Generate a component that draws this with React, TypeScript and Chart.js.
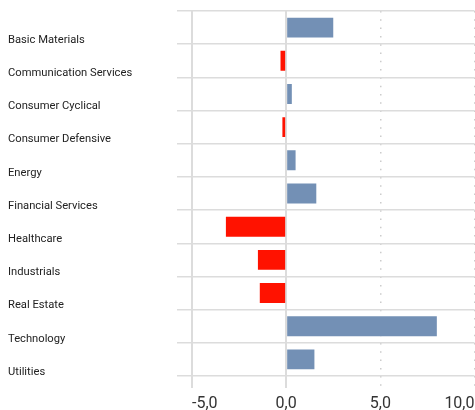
import React, { useEffect, useRef } from "react";
import { Chart, registerables } from "chart.js";

Chart.register(...registerables);

const categories = [
  "Basic Materials",
  "Communication Services",
  "Consumer Cyclical",
  "Consumer Defensive",
  "Energy",
  "Financial Services",
  "Healthcare",
  "Industrials",
  "Real Estate",
  "Technology",
  "Utilities",
];
const values = [2.5, -0.3, 0.3, -0.2, 0.5, 1.6, -3.2, -1.5, -1.4, 8.0, 1.5];
const xMin = -5;
const xMax = 10;
const xStep = 5;

const FONT = "Roboto, 'Liberation Sans', sans-serif";
const POS = "#7390b5";
const NEG = "#ff1200";
const GRID = "#dcdcdc";
const DOT = "#cccccc";

export default function App() {
  const ref = useRef<HTMLCanvasElement | null>(null);
  useEffect(() => {
    if (!ref.current) return;
    const dotted = (ctx: any) => ctx.tick && ctx.tick.value > 0;
    const chart = new Chart(ref.current, {
      type: "bar",
      data: {
        labels: categories,
        datasets: [
          {
            data: values,
            backgroundColor: values.map((v) => (v >= 0 ? POS : NEG)),
            barPercentage: 0.6,
            categoryPercentage: 1,
            borderWidth: 0,
          },
        ],
      },
      options: {
        indexAxis: "y",
        responsive: false,
        animation: false,
        layout: { padding: { left: 8, right: 0.5, top: 11, bottom: 0 } },
        plugins: { legend: { display: false }, tooltip: { enabled: false } },
        scales: {
          x: {
            type: "linear",
            min: xMin,
            max: xMax,
            ticks: {
              stepSize: xStep,
              align: "inner",
              padding: 6,
              color: "#333",
              font: { family: FONT, size: 16 },
              callback: (v: any) => Number(v).toFixed(1).replace(".", ","),
            },
            grid: {
              color: (ctx: any) => (dotted(ctx) ? DOT : GRID),
              tickColor: (ctx: any) => (dotted(ctx) ? DOT : GRID),
              tickLength: 12,
              lineWidth: (ctx: any) => (dotted(ctx) ? 1.5 : 2),
              tickWidth: (ctx: any) => (dotted(ctx) ? 1.5 : 2),
              tickBorderDash: (ctx: any) => (dotted(ctx) ? [1.5, 6.8] : []),
            },
            border: {
              display: false,
              dash: (ctx: any) => (dotted(ctx) ? [1.5, 6.8] : []),
            },
            afterFit: (scale: any) => {
              scale.height = 34;
              scale.paddingLeft = 0;
              scale.paddingRight = 0;
            },
          },
          y: {
            type: "category",
            ticks: {
              crossAlign: "far",
              labelOffset: 12.5,
              color: "#222",
              font: { family: FONT, size: 11.2 },
            },
            grid: {
              offset: true,
              color: GRID,
              tickColor: GRID,
              lineWidth: 1.5,
              tickLength: 15,
            },
            border: { display: false },
            afterFit: (scale: any) => {
              scale.width = 184;
            },
          },
        },
      },
    });
    return () => chart.destroy();
  }, []);
  return (
    <div style={{ position: "absolute", left: 0, top: 0, width: 475, height: 410 }}>
      <canvas ref={ref} width={475} height={410} style={{ display: "block" }} />
    </div>
  );
}
